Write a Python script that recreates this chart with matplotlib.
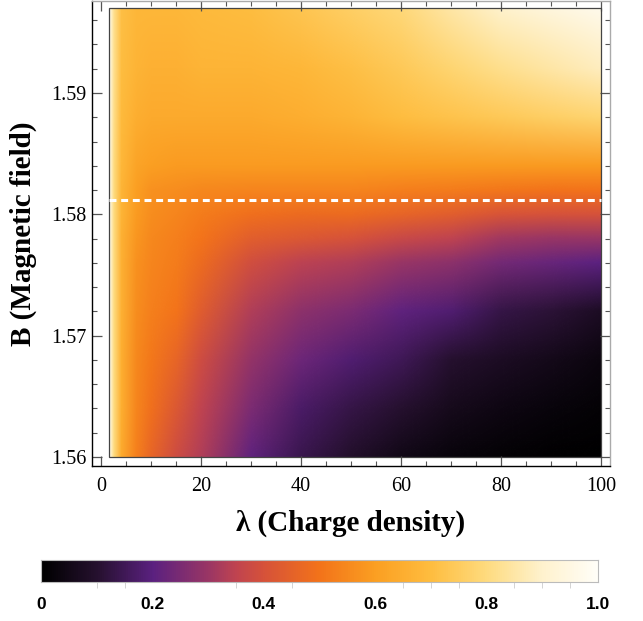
import numpy as np
import matplotlib
matplotlib.use('Agg')
import matplotlib.pyplot as plt
from matplotlib.colors import LinearSegmentedColormap
from matplotlib.image import NonUniformImage
from matplotlib.patches import Rectangle
from matplotlib.ticker import MultipleLocator, FixedLocator

plt.rcParams['lines.scale_dashes'] = False

# sample grid: charge density (columns) x magnetic field (rows)
lam = [1.6, 2.5, 4, 7, 10, 15, 20, 30, 40, 50, 60, 70, 80, 90, 100]
bfield = [1.560, 1.564, 1.568, 1.572, 1.576, 1.578, 1.580, 1.582, 1.584,
          1.588, 1.592, 1.597]

# one list per lambda column, bottom -> top in B
col_1p6 = [0.97, 0.97, 0.97, 0.97, 0.97, 0.97, 0.97, 0.97, 0.97, 0.97, 0.97, 0.97]
col_2p5 = [0.80, 0.80, 0.80, 0.80, 0.80, 0.80, 0.80, 0.80, 0.80, 0.81, 0.82, 0.82]
col_4 = [0.64, 0.65, 0.65, 0.66, 0.66, 0.66, 0.67, 0.67, 0.68, 0.69, 0.70, 0.71]
col_7 = [0.53, 0.54, 0.55, 0.56, 0.57, 0.58, 0.59, 0.60, 0.62, 0.65, 0.67, 0.68]
col_10 = [0.46, 0.49, 0.51, 0.53, 0.54, 0.55, 0.56, 0.57, 0.60, 0.64, 0.66, 0.68]
col_15 = [0.38, 0.42, 0.46, 0.50, 0.52, 0.53, 0.54, 0.56, 0.59, 0.64, 0.66, 0.68]
col_20 = [0.33, 0.35, 0.38, 0.43, 0.48, 0.50, 0.52, 0.55, 0.59, 0.64, 0.67, 0.69]
col_30 = [0.21, 0.25, 0.29, 0.33, 0.39, 0.44, 0.49, 0.54, 0.59, 0.64, 0.67, 0.70]
col_40 = [0.14, 0.17, 0.23, 0.28, 0.345, 0.42, 0.48, 0.54, 0.59, 0.65, 0.68, 0.73]
col_50 = [0.09, 0.13, 0.18, 0.25, 0.33, 0.40, 0.48, 0.54, 0.59, 0.67, 0.71, 0.76]
col_60 = [0.05, 0.10, 0.15, 0.21, 0.30, 0.37, 0.46, 0.53, 0.59, 0.70, 0.74, 0.79]
col_70 = [0.025, 0.06, 0.10, 0.18, 0.28, 0.35, 0.44, 0.52, 0.59, 0.72, 0.78, 0.85]
col_80 = [0.012, 0.04, 0.075, 0.13, 0.24, 0.31, 0.41, 0.51, 0.59, 0.74, 0.82, 0.90]
col_90 = [0.005, 0.025, 0.055, 0.11, 0.22, 0.30, 0.40, 0.50, 0.59, 0.76, 0.85, 0.94]
col_100 = [0.0, 0.015, 0.035, 0.075, 0.20, 0.30, 0.40, 0.50, 0.59, 0.78, 0.88, 0.97]

b_line = 1.5812

cbar_ticks = [0, 0.2, 0.4, 0.6, 0.8, 1.0]
cbar_ticklabels = ['0', '0.2', '0.4', '0.6', '0.8', '1.0']
cbar_minor = [0.1, 0.15, 0.2, 0.35, 0.4, 0.45, 0.65, 0.7, 0.75, 0.85, 0.9, 0.95]

# sunset style colour scheme
sunset = LinearSegmentedColormap.from_list('sunset', [
    (0.00, '#000000'),
    (0.10, '#26112f'),
    (0.20, '#5b2180'),
    (0.30, '#9a3665'),
    (0.35, '#c04450'),
    (0.40, '#d6523a'),
    (0.50, '#f3731a'),
    (0.60, '#fb9f22'),
    (0.70, '#ffbd3f'),
    (0.80, '#fedb7e'),
    (0.90, '#fff2cd'),
    (1.00, '#fffef8'),
])

Z = np.array([col_1p6, col_2p5, col_4, col_7, col_10, col_15, col_20, col_30,
              col_40, col_50, col_60, col_70, col_80, col_90, col_100]).T

fig = plt.figure(figsize=(6.43, 6.21), dpi=100)
ax = fig.add_axes([92 / 643, 1 - 466 / 621, 518 / 643, 465 / 621])

im = NonUniformImage(ax, interpolation='bilinear', cmap=sunset,
                     extent=(lam[0], lam[-1], bfield[0], bfield[-1]))
im.set_data(np.array(lam), np.array(bfield), Z)
im.set_clim(0, 1)
ax.add_image(im)
frame = Rectangle((lam[0], bfield[0]), lam[-1] - lam[0], bfield[-1] - bfield[0],
                  fill=False, edgecolor='#444444', lw=0.9, zorder=3)
ax.add_patch(frame)
im.set_clip_path(frame)

ax.plot([lam[0], lam[-1]], [b_line, b_line], color='white', lw=2.2,
        dashes=(5.0, 3.4), zorder=4)

ax.set_xlim(-1.8, 101.8)
ax.set_ylim(1.55926, 1.59758)

ax.xaxis.set_major_locator(MultipleLocator(20))
ax.xaxis.set_minor_locator(MultipleLocator(5))
ax.yaxis.set_major_locator(FixedLocator([1.56, 1.57, 1.58, 1.59]))
ax.yaxis.set_minor_locator(MultipleLocator(0.002))
ax.set_yticklabels(['1.56', '1.57', '1.58', '1.59'])

ax.tick_params(which='both', direction='in', top=True, right=True, color='#555555')
ax.tick_params(which='major', length=7, width=0.9)
ax.tick_params(which='minor', length=3.6, width=0.8)
ax.tick_params(axis='x', pad=8)
ax.tick_params(axis='y', pad=4)
for lbl in ax.get_xticklabels() + ax.get_yticklabels():
    lbl.set_family('Liberation Serif')
    lbl.set_fontsize(14.5)

ax.spines['left'].set_color('black')
ax.spines['bottom'].set_color('black')
ax.spines['top'].set_color('#aaaaaa')
ax.spines['right'].set_color('#aaaaaa')
for s in ax.spines.values():
    s.set_linewidth(1.0)

ax.set_xlabel('λ (Charge density)', family='Liberation Serif', fontweight='bold',
              fontsize=21, labelpad=10)
ax.set_ylabel('B (Magnetic field)', family='Liberation Serif', fontweight='bold',
              fontsize=21, labelpad=10)

# horizontal colour bar
cax = fig.add_axes([41 / 643, 1 - 582 / 621, 557 / 643, 22 / 621])
grad = np.linspace(0, 1, 512).reshape(1, -1)
cax.imshow(grad, aspect='auto', cmap=sunset, extent=(0, 1, 0, 1), vmin=0, vmax=1)
cax.set_xlim(0, 1)
cax.set_ylim(0, 1)
cax.set_yticks([])
cax.set_xticks(cbar_ticks)
cax.set_xticklabels(cbar_ticklabels, family='Liberation Sans', fontweight='bold',
                    fontsize=12.5)
cax.xaxis.set_minor_locator(FixedLocator(cbar_minor))
cax.tick_params(which='major', length=0, pad=11)
cax.tick_params(which='minor', length=4, color='#cccccc', direction='out')
for s in cax.spines.values():
    s.set_color('#bbbbbb')
    s.set_linewidth(0.8)

fig.savefig('out.png', dpi=100)
